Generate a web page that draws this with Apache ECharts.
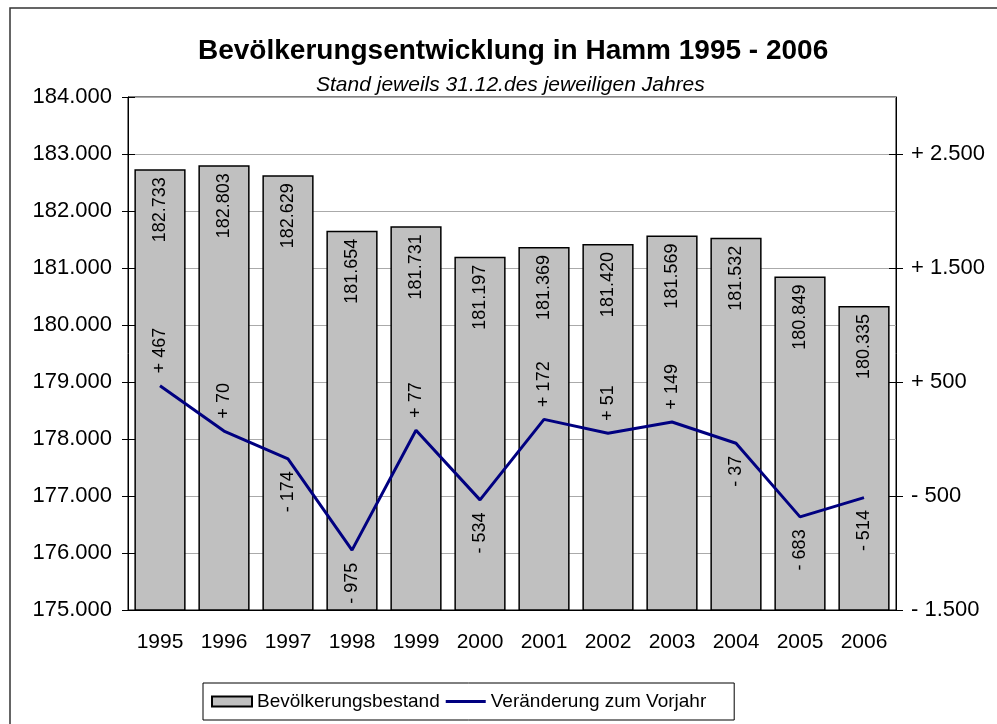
<!DOCTYPE html>
<html>
<head>
<meta charset="utf-8">
<script src="https://cdn.jsdelivr.net/npm/echarts@6/dist/echarts.min.js"></script>
<style>
  html, body { margin: 0; padding: 0; background: #fff; }
  #chart { width: 997px; height: 724px; }
</style>
</head>
<body>
<div id="chart"></div>
<script>
// data
var years = ['1995', '1996', '1997', '1998', '1999', '2000', '2001', '2002', '2003', '2004', '2005', '2006'];
var bestand = [182733, 182803, 182629, 181654, 181731, 181197, 181369, 181420, 181569, 181532, 180849, 180335];
var veraenderung = [467, 70, -174, -975, 77, -534, 172, 51, 149, -37, -683, -514];
var rightTicks = [-1500, -500, 500, 1500, 2500];

var FONT = '"Liberation Sans", Arial, sans-serif';

// german thousands separator
function fmt(v) {
  return String(Math.abs(v)).replace(/\B(?=(\d{3})+(?!\d))/g, '.');
}
function signed(v) {
  return (v < 0 ? '- ' : '+ ') + fmt(v);
}

// label points for the line: above when positive, below when negative
var labelData = veraenderung.map(function (v) {
  return {
    value: v,
    label: {
      position: v >= 0 ? 'top' : 'bottom',
      align: v >= 0 ? 'left' : 'right'
    }
  };
});

var chart = echarts.init(document.getElementById('chart'));
var option = {
  animation: false,
  backgroundColor: '#fff',
  textStyle: { fontFamily: FONT },
  graphic: [{
    type: 'rect',
    shape: { x: 10, y: 8, width: 1000, height: 800 },
    style: { fill: 'none', stroke: '#333', lineWidth: 1.5 },
    silent: true
  }],
  title: [
    {
      text: 'Bevölkerungsentwicklung in Hamm 1995 - 2006',
      left: 193,
      top: 32,
      textStyle: { fontFamily: FONT, fontSize: 28, fontWeight: 'bold', color: '#000' }
    },
    {
      text: 'Stand jeweils 31.12.des jeweiligen Jahres',
      left: 311,
      top: 70,
      textStyle: { fontFamily: FONT, fontSize: 21, fontStyle: 'italic', fontWeight: 'normal', color: '#000' }
    }
  ],
  legend: {
    left: 203,
    top: 683,
    padding: [9, 28, 9, 8],
    borderColor: '#000',
    borderWidth: 1,
    itemWidth: 40,
    itemHeight: 10,
    itemGap: 6,
    textStyle: { fontFamily: FONT, fontSize: 19, color: '#000' },
    data: [
      { name: 'Bevölkerungsbestand', icon: 'rect' },
      { name: 'Veränderung zum Vorjahr', icon: 'path://M0,0H40V3H0Z' }
    ]
  },
  grid: {
    left: 128,
    right: 101,
    top: 97,
    bottom: 114,
    show: true,
    borderColor: '#000',
    borderWidth: 1
  },
  xAxis: [
    {
      type: 'category',
      data: years,
      axisLine: { onZero: false, lineStyle: { color: '#000', width: 1 } },
      axisTick: { length: 7, lineStyle: { color: '#000' } },
      axisLabel: { margin: 22, fontSize: 21, color: '#000', fontFamily: FONT }
    },
    {
      type: 'category',
      data: years,
      position: 'bottom',
      axisLine: { show: false, onZero: false },
      axisTick: { inside: true, length: 7, lineStyle: { color: '#000' } },
      axisLabel: { show: false }
    }
  ],
  yAxis: [
    {
      type: 'value',
      min: 175000,
      max: 184000,
      interval: 1000,
      axisLine: { show: true, onZero: false, lineStyle: { color: '#000' } },
      axisTick: { show: true, length: 6, lineStyle: { color: '#000' } },
      axisLabel: { margin: 16, fontSize: 22, color: '#000', fontFamily: FONT, formatter: fmt },
      splitLine: { lineStyle: { color: '#aaa', width: 1 } }
    },
    {
      type: 'value',
      position: 'right',
      min: -1500,
      max: 3000,
      axisLine: { show: true, onZero: false, lineStyle: { color: '#000' } },
      axisTick: { show: true, length: 7, customValues: rightTicks, lineStyle: { color: '#000' } },
      axisLabel: {
        margin: 15, fontSize: 22, color: '#000', fontFamily: FONT,
        customValues: rightTicks,
        formatter: signed
      },
      splitLine: { show: false }
    },
    {
      type: 'value',
      min: 175000,
      max: 184000,
      interval: 1000,
      position: 'left',
      axisLine: { show: false, onZero: false },
      axisTick: { show: true, inside: true, length: 7, lineStyle: { color: '#000' } },
      axisLabel: { show: false },
      splitLine: { show: false }
    },
    {
      type: 'value',
      position: 'right',
      min: -1500,
      max: 3000,
      axisLine: { show: false, onZero: false },
      axisTick: { show: true, inside: true, length: 7, customValues: rightTicks, lineStyle: { color: '#000' } },
      axisLabel: { show: false },
      splitLine: { show: false }
    }
  ],
  series: [
    {
      name: 'Bevölkerungsbestand',
      type: 'bar',
      data: bestand,
      barCategoryGap: '20%',
      itemStyle: { color: '#c0c0c0', borderColor: '#000', borderWidth: 1.5 },
      label: {
        show: true,
        position: 'insideTop',
        distance: 8,
        rotate: 90,
        align: 'right',
        verticalAlign: 'middle',
        fontSize: 18,
        color: '#000',
        fontFamily: FONT,
        formatter: function (p) { return fmt(p.value); }
      },
      z: 2
    },
    {
      name: 'Veränderung zum Vorjahr',
      type: 'line',
      yAxisIndex: 1,
      data: veraenderung,
      symbol: 'none',
      lineStyle: { color: '#000080', width: 3 },
      itemStyle: { color: '#000080' },
      z: 5
    },
    {
      // value labels of the line
      name: 'labels',
      type: 'scatter',
      yAxisIndex: 1,
      data: labelData,
      symbolSize: 1,
      itemStyle: { color: 'rgba(0,0,0,0)', opacity: 1 },
      label: {
        show: true,
        distance: 12,
        rotate: 90,
        verticalAlign: 'middle',
        fontSize: 18,
        color: '#000',
        opacity: 1,
        fontFamily: FONT,
        formatter: function (p) { return signed(p.value); }
      },
      silent: true,
      z: 6
    }
  ]
};
chart.setOption(option);
</script>
</body>
</html>
